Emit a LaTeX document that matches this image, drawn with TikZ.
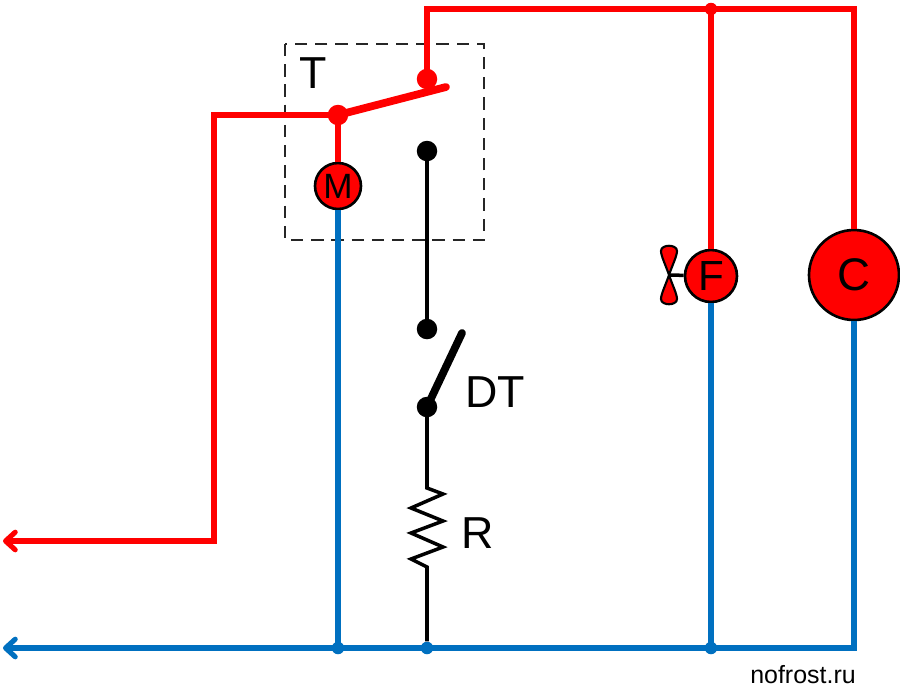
\documentclass[tikz,border=0pt]{standalone}
\usepackage{fontspec}
\setmainfont{Liberation Sans}
\usetikzlibrary{arrows.meta}

\definecolor{wirered}{RGB}{255,0,0}
\definecolor{wireblue}{RGB}{0,112,192}

\tikzset{
	redwire/.style={draw=wirered,line width=2.9pt},
	bluewire/.style={draw=wireblue,line width=2.9pt},
	blackwire/.style={draw=black,line width=2pt},
	lever/.style={line width=4.4pt,line cap=round},
	load/.style={circle,draw=black,line width=1.5pt,fill=wirered,inner sep=0pt},
	contact/.style={circle,inner sep=0pt,minimum size=0.41cm},
	junction/.style={circle,inner sep=0pt,minimum size=0.25cm},
	tag/.style={inner sep=0pt,font=\fontsize{25.5}{28}\selectfont},
	wirehead/.style={-{Straight Barb[round,length=5.5pt,width=10pt]}}
}

\begin{document}
\begin{tikzpicture}[x=0.02cm,y=-0.02cm]
		
		\useasboundingbox (0,0) rectangle (900,691);
		
		% Loads
		\node[load,minimum size=0.92cm,font=\fontsize{20}{22}\selectfont] (M) at (338,186) {M};
		\node[load,minimum size=1.04cm,font=\fontsize{24}{26}\selectfont] (F) at (711,276) {F};
		\node[load,minimum size=1.8cm,font=\fontsize{26}{28}\selectfont] (C) at (854,275) {C};
		
		% Contacts
		\node[contact,fill=wirered] (Tcom) at (338,115) {};
		\node[contact,fill=wirered] (Tup) at (427,79) {};
		\node[contact,fill=black] (Tdown) at (427,151) {};
		\node[contact,fill=black] (DTup) at (427,329) {};
		\node[contact,fill=black] (DTcom) at (427,407) {};
		
		% Junctions on the two rails
		\node[junction,fill=wirered] (topF) at (711,9) {};
		\node[junction,fill=wireblue] (botM) at (338,648) {};
		\node[junction,fill=wireblue] (botR) at (427,648) {};
		\node[junction,fill=wireblue] (botF) at (711,648) {};
		
		% Corners and free ends
		\coordinate (topT) at (427,9);
		\coordinate (topC) at (854,9);
		\coordinate (botC) at (854,648);
		\coordinate (bendL) at (214,115);
		\coordinate (bendD) at (214,541);
		\coordinate (outRed) at (3,541);
		\coordinate (outBlue) at (3,648);
		\coordinate (Tend) at (446,87);
		\coordinate (DTend) at (462,333);
		\coordinate (Rtop) at (427,488);
		\coordinate (Rbot) at (427,567);
		\coordinate (fanhub) at (669,275);
		
		% Thermostat box
		\draw[dash pattern=on 7pt off 4.5pt,line width=1.1pt,black!85] (285,44) rectangle (484,240);
		
		% Red side
		\draw[redwire] (Tup.center) -- (topT) -- (topC) -- (C);
		\draw[redwire] (topF.center) -- (F);
		\draw[redwire] (Tcom.center) -- (M);
		\draw[redwire,wirehead] (Tcom.center) -- (bendL) -- (bendD) -- (outRed);
		\draw[draw=wirered,lever] (Tcom.center) -- (Tend);
		
		% Blue side
		\draw[bluewire] (C) -- (botC) -- (botF.center);
		\draw[bluewire] (F) -- (botF.center);
		\draw[bluewire] (M) -- (botM.center);
		\draw[bluewire,wirehead] (botC) -- (outBlue);
		
		% Defrost branch
		\draw[blackwire] (Tdown.center) -- (DTup.center);
		\draw[lever] (DTcom.center) -- (DTend);
		\draw[blackwire,line join=miter] (DTcom.center) -- (Rtop) -- (443,494) -- (411,508) -- (443,521) -- (411,533)
			-- (443,547) -- (411,559) -- (427,567) -- (Rbot) -- (botR);
		
		% Fan
		\draw[blackwire] (fanhub) -- (F);
		\draw[load,line width=1.2pt] (fanhub) .. controls (666,266) and (661,256) .. (661,251)
			.. controls (661,244) and (677,244) .. (677,251)
			.. controls (677,256) and (672,266) .. (fanhub)
			.. controls (672,284) and (677,294) .. (677,299)
			.. controls (677,306) and (661,306) .. (661,299)
			.. controls (661,294) and (666,284) .. (fanhub);
		
		% Labels
		\node[tag] (Tlabel) at (313,73) {T};
		\node[tag,anchor=west] (DTlabel) at (465,392) {DT};
		\node[tag,anchor=west] (Rlabel) at (461,533) {R};
		\node[inner sep=0pt,font=\fontsize{14.2}{16}\selectfont] (site) at (803,675) {nofrost.ru};
		
	\end{tikzpicture}
\end{document}
